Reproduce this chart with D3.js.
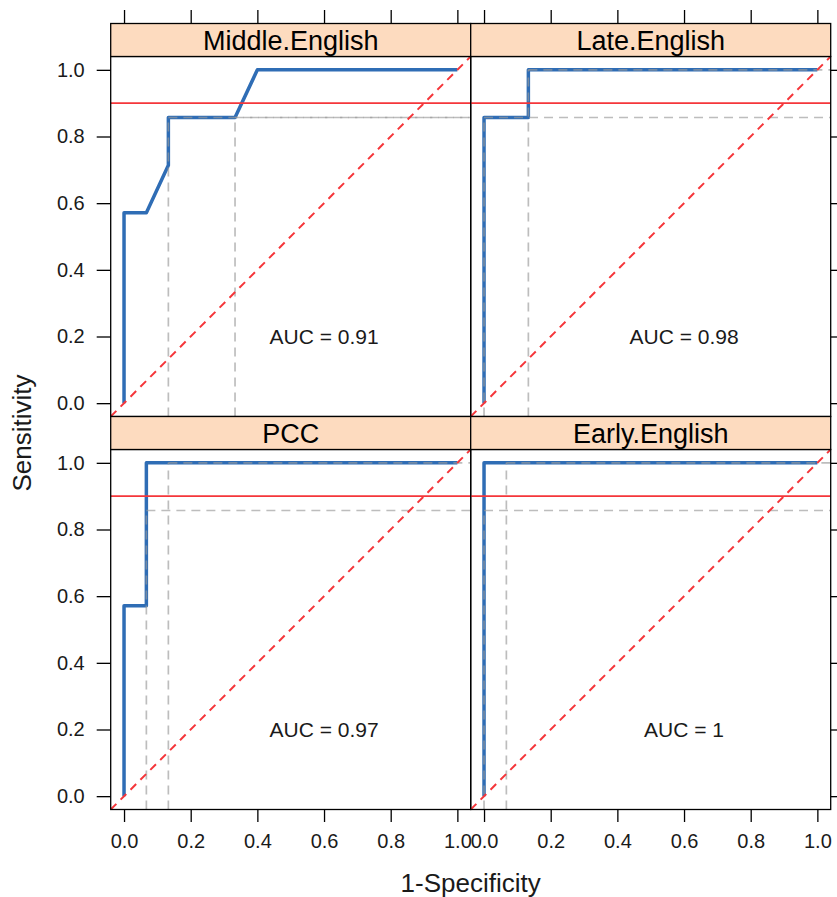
<!DOCTYPE html>
<html>
<head>
<meta charset="utf-8">
<script src="https://cdn.jsdelivr.net/npm/d3@7"></script>
<style>
  body { margin: 0; background: #fff; }
  svg { font-family: "Liberation Sans", Arial, sans-serif; }
</style>
</head>
<body>
<svg id="roc-viz"></svg>
<script>
// Panels, in drawing order (left-right, top-bottom)
let panelNames = ['Middle.English', 'Late.English', 'PCC', 'Early.English'];

// ROC curves (1-specificity, sensitivity)
let middleFpr = [0, 0, 0.067, 0.133, 0.133, 0.333, 0.4, 1];
let middleTpr = [0, 0.571, 0.571, 0.714, 0.857, 0.857, 1, 1];
let lateFpr = [0, 0, 0.133, 0.133, 1];
let lateTpr = [0, 0.857, 0.857, 1, 1];
let pccFpr = [0, 0, 0.067, 0.067, 1];
let pccTpr = [0, 0.571, 0.571, 1, 1];
let earlyFpr = [0, 0, 1];
let earlyTpr = [0, 1, 1];

// Cut points marked with the grey dashed guides
let middleCutFpr = [0.133, 0.333];
let middleCutTpr = [0.857, 0.857];
let lateCutFpr = [0, 0.133];
let lateCutTpr = [0.857, 1];
let pccCutFpr = [0.067, 0.133];
let pccCutTpr = [0.857, 1];
let earlyCutFpr = [0, 0.067];
let earlyCutTpr = [0.857, 1];

let aucValues = ['0.91', '0.98', '0.97', '1'];
let sensitivityTarget = 0.9;
let tickValues = [0, 0.2, 0.4, 0.6, 0.8, 1];

let rocFpr = [middleFpr, lateFpr, pccFpr, earlyFpr];
let rocTpr = [middleTpr, lateTpr, pccTpr, earlyTpr];
let cutFpr = [middleCutFpr, lateCutFpr, pccCutFpr, earlyCutFpr];
let cutTpr = [middleCutTpr, lateCutTpr, pccCutTpr, earlyCutTpr];

// Size and layout
let width = 837, height = 897;
let panelLeft = 110.7;   // left edge of first column
let panelSize = 360;     // panel width and height
let stripHeight = 33;
let rowTop = 23.5;       // top of the first strip
let domain = [-0.04, 1.04];

let textColor = '#1a1a1a';
let blue = '#2f6db5';
let red = '#f5363a';

let svg = d3.select('#roc-viz')
    .attr('width', width)
    .attr('height', height);

let defs = svg.append('defs');

panelNames.forEach(function (name, i) {
    let col = i % 2;
    let row = Math.floor(i / 2);
    let x0 = panelLeft + col * panelSize;
    let stripTop = rowTop + row * (stripHeight + panelSize);
    let plotTop = stripTop + stripHeight;

    let x = d3.scaleLinear().domain(domain).range([x0, x0 + panelSize]);
    let y = d3.scaleLinear().domain(domain).range([plotTop + panelSize, plotTop]);

    let clipId = 'clip' + i;
    defs.append('clipPath').attr('id', clipId)
        .append('rect')
        .attr('x', x0).attr('y', plotTop)
        .attr('width', panelSize).attr('height', panelSize);

    let panel = svg.append('g').attr('clip-path', `url(#${clipId})`);

    // ROC curve
    let points = rocFpr[i].map((fx, k) => [fx, rocTpr[i][k]]);
    panel.append('path')
        .datum(points)
        .attr('d', d3.line().x(d => x(d[0])).y(d => y(d[1])))
        .attr('fill', 'none')
        .attr('stroke', blue)
        .attr('stroke-width', 3.5)
        .attr('stroke-linejoin', 'round');

    // grey dashed guides at cut points
    let cuts = cutFpr[i].map((fx, k) => ({ fx: fx, ty: cutTpr[i][k] }));
    let guides = panel.append('g')
        .attr('stroke', '#9a9a9a')
        .attr('stroke-opacity', 0.65)
        .attr('stroke-width', 1.7)
        .attr('stroke-dasharray', '9,6');
    guides.selectAll('line.v').data(cuts).enter().append('line')
        .attr('class', 'v')
        .attr('x1', d => x(d.fx)).attr('x2', d => x(d.fx))
        .attr('y1', y(domain[0])).attr('y2', d => y(d.ty));
    guides.selectAll('line.h').data(cuts).enter().append('line')
        .attr('class', 'h')
        .attr('x1', d => x(d.fx)).attr('x2', x(domain[1]))
        .attr('y1', d => y(d.ty)).attr('y2', d => y(d.ty));

    // reference lines
    panel.append('line')
        .attr('x1', x(domain[0])).attr('x2', x(domain[1]))
        .attr('y1', y(sensitivityTarget)).attr('y2', y(sensitivityTarget))
        .attr('stroke', red).attr('stroke-width', 1.8);
    panel.append('line')
        .attr('x1', x(domain[0])).attr('y1', y(domain[0]))
        .attr('x2', x(domain[1])).attr('y2', y(domain[1]))
        .attr('stroke', red).attr('stroke-width', 2)
        .attr('stroke-dasharray', '8,6');

    // AUC label
    svg.append('text')
        .attr('x', x(0.6)).attr('y', y(0.2))
        .attr('dy', '0.35em')
        .attr('text-anchor', 'middle')
        .attr('font-size', 21)
        .attr('fill', textColor)
        .text('AUC = ' + aucValues[i]);

    // panel border
    svg.append('rect')
        .attr('x', x0).attr('y', plotTop)
        .attr('width', panelSize).attr('height', panelSize)
        .attr('fill', 'none').attr('stroke', '#000').attr('stroke-width', 1.3);

    // strip
    svg.append('rect')
        .attr('x', x0).attr('y', stripTop)
        .attr('width', panelSize).attr('height', stripHeight)
        .attr('fill', '#fddbbf').attr('stroke', '#000').attr('stroke-width', 1.3);
    svg.append('text')
        .attr('x', x0 + panelSize / 2).attr('y', stripTop + stripHeight / 2)
        .attr('dy', '0.36em')
        .attr('text-anchor', 'middle')
        .attr('font-size', 27)
        .attr('fill', '#000')
        .text(name);

    // axes: labels on left and bottom, bare ticks on top and right
    let fmt = d3.format('.1f');
    let yAxis = col === 0
        ? d3.axisLeft(y).tickValues(tickValues).tickSize(14).tickPadding(12).tickFormat(fmt)
        : d3.axisRight(y).tickValues(tickValues).tickSize(14).tickFormat('');
    let yAxisG = svg.append('g')
        .attr('transform', `translate(${col === 0 ? x0 : x0 + panelSize},0)`)
        .call(yAxis);

    let axisGroups = [yAxisG];
    if (row === 0) {
        axisGroups.push(svg.append('g')
            .attr('transform', `translate(0,${stripTop})`)
            .call(d3.axisTop(x).tickValues(tickValues).tickSize(13.5).tickFormat('')));
    } else {
        axisGroups.push(svg.append('g')
            .attr('transform', `translate(0,${plotTop + panelSize})`)
            .call(d3.axisBottom(x).tickValues(tickValues).tickSize(12.5).tickPadding(12).tickFormat(fmt)));
    }
    axisGroups.forEach(function (g) {
        g.select('.domain').remove();
        g.selectAll('.tick line').attr('stroke', '#000').attr('stroke-width', 1.3);
        g.selectAll('.tick text')
            .attr('font-size', 20)
            .attr('font-family', '"Liberation Sans", Arial, sans-serif')
            .attr('fill', textColor);
    });
});

// axis titles
let plotsMid = panelLeft + panelSize;
svg.append('text')
    .attr('x', plotsMid).attr('y', 892)
    .attr('text-anchor', 'middle')
    .attr('font-size', 26)
    .attr('fill', textColor)
    .text('1-Specificity');

svg.append('text')
    .attr('transform', `translate(31,${rowTop + stripHeight + panelSize + stripHeight / 2}) rotate(-90)`)
    .attr('text-anchor', 'middle')
    .attr('font-size', 26)
    .attr('fill', textColor)
    .text('Sensitivity');
</script>
</body>
</html>
